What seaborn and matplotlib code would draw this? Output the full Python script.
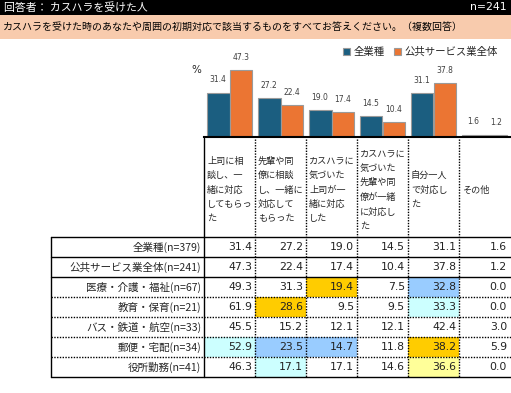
import pandas as pd
import seaborn as sns
import matplotlib.pyplot as plt
from matplotlib.colors import ListedColormap

# data
columns = ['上司に相\n談し、一\n緒に対応\nしてもらっ\nた',
           '先輩や同\n僚に相談\nし、一緒に\n対応して\nもらった',
           'カスハラに\n気づいた\n上司が一\n緒に対応\nした',
           'カスハラに\n気づいた\n先輩や同\n僚が一緒\nに対応し\nた',
           '自分一人\nで対応し\nた',
           'その他']
rows = ['全業種(n=379)', '公共サービス業全体(n=241)', '医療・介護・福祉(n=67)',
        '教育・保育(n=21)', 'バス・鉄道・航空(n=33)', '郵便・宅配(n=34)', '役所勤務(n=41)']
values = [
    [31.4, 27.2, 19.0, 14.5, 31.1, 1.6],
    [47.3, 22.4, 17.4, 10.4, 37.8, 1.2],
    [49.3, 31.3, 19.4, 7.5, 32.8, 0.0],
    [61.9, 28.6, 9.5, 9.5, 33.3, 0.0],
    [45.5, 15.2, 12.1, 12.1, 42.4, 3.0],
    [52.9, 23.5, 14.7, 11.8, 38.2, 5.9],
    [46.3, 17.1, 17.1, 14.6, 36.6, 0.0],
]
# cell shading: 0 none, 1 gold, 2 light blue, 3 light cyan, 4 light yellow
shade = [
    [0, 0, 0, 0, 0, 0],
    [0, 0, 0, 0, 0, 0],
    [0, 0, 1, 0, 2, 0],
    [0, 1, 0, 0, 3, 0],
    [0, 0, 0, 0, 0, 0],
    [3, 2, 2, 0, 1, 0],
    [0, 3, 0, 0, 4, 0],
]
series = ['全業種', '公共サービス業全体']

sns.set_style('white')
plt.rcParams['font.family'] = ['Noto Sans CJK JP', 'DejaVu Sans']

W, H = 511, 393
fig = plt.figure(figsize=(W / 100, H / 100), dpi=100)


def box(x0, y0, x1, y1):
    return [x0 / W, 1 - y1 / H, (x1 - x0) / W, (y1 - y0) / H]


# bar chart
df = pd.DataFrame({
    'item': [str(i) for i in range(len(columns))] * 2,
    'series': [series[0]] * len(columns) + [series[1]] * len(columns),
    'value': values[0] + values[1],
})
ax = fig.add_axes(box(204, 52, 510, 137))
sns.barplot(data=df, x='item', y='value', hue='series', ax=ax,
            palette=['#1B5E80', '#EB7533'], saturation=1, width=0.9, gap=0,
            edgecolor='#9A9A9A', linewidth=0.8)
ax.set_ylim(0, 60)
ax.set_xlim(-0.5, len(columns) - 0.5)
for c in ax.containers:
    ax.bar_label(c, fmt='%.1f', padding=6, fontsize=5.5, color='#404040',
                 family='DejaVu Sans')
for s in ['top', 'left', 'right']:
    ax.spines[s].set_visible(False)
ax.spines['bottom'].set_color('black')
ax.spines['bottom'].set_linewidth(1.5)
ax.set_xticks([])
ax.set_yticks([])
ax.set_xlabel('')
ax.set_ylabel('')
ax.patch.set_alpha(0)
handles, labels = ax.get_legend_handles_labels()
ax.get_legend().remove()
fig.legend(handles, labels, loc='center right', bbox_to_anchor=(502 / W, 1 - 52 / H),
           ncol=2, frameon=False, fontsize=7.5, handlelength=0.7, handleheight=0.7,
           handletextpad=0.3, columnspacing=0.9, borderaxespad=0)

# table cells
hx = fig.add_axes(box(204, 237, 510, 377))
cmap = ListedColormap(['white', '#FFCC00', '#99CCFF', '#CCFFFF', '#FFFF99'])
sns.heatmap(pd.DataFrame(shade), cmap=cmap, vmin=-0.5, vmax=4.5, cbar=False,
            ax=hx, xticklabels=False, yticklabels=False)

# overlay in pixel coordinates for frame, grid and text
ov = fig.add_axes([0, 0, 1, 1])
ov.set_xlim(0, W)
ov.set_ylim(H, 0)
ov.axis('off')
ov.patch.set_alpha(0)

ov.add_patch(plt.Rectangle((0, 0), W, 15, color='black', lw=0))
ov.add_patch(plt.Rectangle((0, 15), W, 24, color='#F8CBAD', lw=0))
ov.text(4, 7.5, '回答者： カスハラを受けた人', color='white', fontsize=7.8, va='center')
ov.text(507, 7.5, 'n=241', color='white', fontsize=7.8, va='center', ha='right',
        family='DejaVu Sans')
ov.text(3, 27, 'カスハラを受けた時のあなたや周囲の初期対応で該当するものをすべてお答えください。（複数回答）',
        color='black', fontsize=7.2, va='center')
ov.text(196, 70, '%', fontsize=7.5, ha='center', va='center', family='DejaVu Sans')

x0, cw, lab_x = 204, 51, 51
y_top, rh = 237, 20
n_r, n_c = len(rows), len(columns)
x_end = x0 + cw * n_c + 2
y_end = y_top + rh * n_r
dot = (0, (1, 1))

ov.plot([lab_x, lab_x], [y_top, y_end], color='black', lw=1)
ov.plot([lab_x, x_end], [y_top, y_top], color='black', lw=1)
ov.plot([lab_x, x_end], [y_end, y_end], color='black', lw=1)
ov.plot([x0, x0], [138, y_end], color='black', lw=1)
for j in range(1, n_c):
    ov.plot([x0 + cw * j] * 2, [139, y_end], color='black', lw=1, ls=dot)
for i in range(1, n_r):
    ov.plot([lab_x, x_end], [y_top + rh * i] * 2, color='black', lw=1,
            ls='-' if i <= 2 else dot)

for j, c in enumerate(columns):
    ov.text(x0 + cw * j + 3, 190, c, fontsize=6.6, ha='left', va='center',
            linespacing=1.75)
for i, r in enumerate(rows):
    yc = y_top + rh * i + rh / 2
    ov.text(x0 - 3, yc, r, fontsize=7.6, ha='right', va='center')
    for j in range(n_c):
        ov.text(x0 + cw * (j + 1) - 3, yc, f'{values[i][j]:.1f}', fontsize=7.8,
                ha='right', va='center', family='DejaVu Sans', color='#222222')

fig.savefig('out.png', dpi=100)
